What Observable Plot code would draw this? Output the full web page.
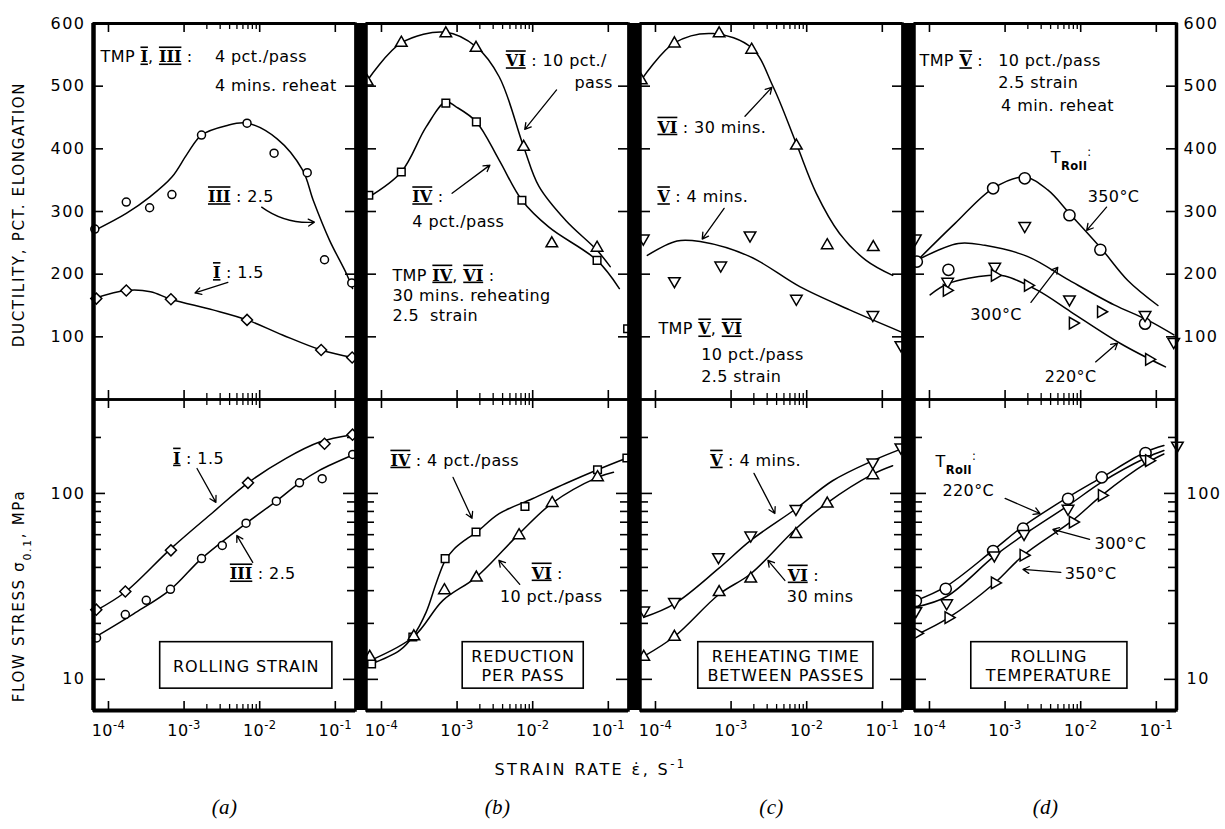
<!DOCTYPE html>
<html><head><meta charset="utf-8">
<script src="https://cdn.jsdelivr.net/npm/d3@7"></script>
<script src="https://cdn.jsdelivr.net/npm/@observablehq/plot@0.6"></script>
<style>
html,body{margin:0;padding:0;background:#fff;}
#chart{position:relative;width:1225px;height:829px;overflow:hidden;background:#fff;}
#chart svg{position:absolute;overflow:visible;}
</style></head><body><div id="chart"></div>
<script>
// ---------- tick values / labels ----------
const xMajor = [1e-4, 1e-3, 1e-2, 1e-1];
const xMinor = [2e-3, 3e-3, 4e-3, 5e-3, 6e-3, 7e-3, 8e-3, 9e-3];
const xTickLabels = ["10^{-4}", "10^{-3}", "10^{-2}", "10^{-1}"];
const ductTicks = [100, 200, 300, 400, 500, 600];
const stressMajor = [10, 100];
const stressMinor = [20, 30, 40, 50, 60, 70, 80, 90, 200];
const panelLabels = ["(a)", "(b)", "(c)", "(d)"];
const yTitleTop = "DUCTILITY, PCT. ELONGATION";
const yTitleBottom = "FLOW STRESS σ_{0.1}, MPa";
const xTitle = "STRAIN RATE ε̇, S^{-1}";

// ---------- (a) rolling strain ----------
const a_duct_I = [[6.9e-5,161],[1.72e-4,174],[6.7e-4,160],[6.8e-3,127],[6.5e-2,79],[0.167,67]];
const a_duct_III = [[6.6e-5,272],[1.72e-4,315],[3.5e-4,306],[6.9e-4,327],[1.7e-3,422],[6.8e-3,441],[1.55e-2,393],[4.25e-2,362],[7.2e-2,223],[0.165,186]];
const a_duct_I_fit = [[6.7e-5,162],[1.72e-4,174],[3.6e-4,172],[6.7e-4,160],[2.4e-3,143],[6.8e-3,127],[2.0e-2,103],[6.5e-2,79],[0.167,67]];
const a_duct_III_fit = [[6.6e-5,270],[1.72e-4,297],[3.5e-4,323],[6.9e-4,355],[1.1e-3,392],[1.7e-3,422],[3.6e-3,437],[6.8e-3,441],[1.7e-2,416],[3.7e-2,366],[5.1e-2,318],[8.4e-2,254],[0.14,201],[0.169,177]];
const a_str_I = [[6.9e-5,23.7],[1.67e-4,29.7],[6.7e-4,49.4],[7.0e-3,114],[7.2e-2,185],[0.169,207]];
const a_str_III = [[6.95e-5,16.7],[1.67e-4,22.3],[3.16e-4,26.6],[6.6e-4,30.5],[1.7e-3,44.6],[3.2e-3,52.5],[6.6e-3,69.2],[1.66e-2,90.9],[3.36e-2,114],[6.7e-2,120],[0.17,162]];
const a_str_I_fit = [[6.9e-5,23.5],[1.67e-4,29.5],[6.7e-4,50.5],[2.4e-3,79],[7.0e-3,114],[2.2e-2,154],[6.2e-2,189],[0.17,207]];
const a_str_III_fit = [[6.9e-5,17],[2.15e-4,22.5],[6.6e-4,30.4],[1.7e-3,44.6],[6.6e-3,69],[1.66e-2,91],[3.36e-2,114],[6.15e-2,133],[0.17,161]];

// ---------- (b) reduction per pass ----------
const b_duct_IV = [[6.8e-5,326],[1.83e-4,363],[7.1e-4,473],[1.8e-3,443],[7.2e-3,318],[7.1e-2,222],[0.18,113]];
const b_duct_VI = [[6.5e-5,507],[1.83e-4,569],[7.1e-4,584],[1.78e-3,561],[7.6e-3,403],[1.79e-2,249],[7.1e-2,242]];
const b_duct_IV_fit = [[6.8e-5,323],[1.83e-4,363],[3.9e-4,435],[7.1e-4,475],[9.7e-4,467],[1.8e-3,443],[3.6e-3,382],[7.2e-3,318],[1.64e-2,275],[7.1e-2,222],[0.14,177]];
const b_duct_VI_fit = [[6.5e-5,509],[1.83e-4,569],[7.1e-4,586],[1.78e-3,563],[3.6e-3,515],[7.6e-3,403],[1.21e-2,340],[2.72e-2,286],[7.1e-2,238],[0.106,212]];
const b_str_IV = [[7.4e-5,12.1],[2.6e-4,16.9],[6.95e-4,44.6],[1.78e-3,62],[7.9e-3,85.1],[7.2e-2,134],[0.176,155]];
const b_str_VI = [[7e-5,13.2],[2.68e-4,17.0],[6.8e-4,30.1],[1.8e-3,35.2],[6.6e-3,59.5],[1.81e-2,88.7],[7.2e-2,122]];
const b_str_IV_fit = [[7e-5,12],[1.74e-4,14.3],[2.6e-4,17],[3.9e-4,23],[5.3e-4,33],[6.95e-4,43.5],[9e-4,50],[1.3e-3,56.5],[1.78e-3,61.5],[3.6e-3,77.8],[9.9e-3,93.6],[2.72e-2,113],[7.2e-2,134],[0.176,155]];
const b_str_VI_fit = [[7e-5,12.6],[2.68e-4,17],[6.5e-4,26.6],[1.8e-3,35.5],[6.6e-3,60.6],[1.81e-2,88.7],[7.2e-2,122],[0.117,130]];

// ---------- (c) reheating time ----------
const c_duct_V = [[6.9e-5,257],[1.78e-4,189],[7.3e-4,214],[1.78e-3,262],[7.3e-3,161],[7.5e-2,135],[0.176,87]];
const c_duct_VI = [[6.5e-5,509],[1.78e-4,568],[6.95e-4,584],[1.87e-3,558],[7.3e-3,405],[1.87e-2,246],[7.6e-2,243]];
const c_duct_V_fit = [[7.8e-5,230],[1.93e-4,253],[3.9e-4,252],[1.78e-3,228],[8.1e-3,180],[3.7e-2,143],[0.176,108]];
const c_duct_VI_fit = [[6.5e-5,510],[1.78e-4,569],[5.8e-4,584],[1.87e-3,561],[3.6e-3,499],[7.3e-3,408],[1.34e-2,329],[2.72e-2,265],[6.1e-2,222],[0.137,198]];
const c_str_V = [[7e-5,23.5],[1.78e-4,26.1],[6.8e-4,45.5],[1.82e-3,59.5],[7.2e-3,82.7],[7.5e-2,147],[0.176,177]];
const c_str_VI = [[7e-5,13.2],[1.78e-4,16.9],[6.95e-4,29.4],[1.82e-3,34.8],[7.2e-3,60.3],[1.87e-2,88],[7.5e-2,125]];
const c_str_V_fit = [[7e-5,21.6],[1.78e-4,25.5],[6.8e-4,39.4],[1.82e-3,55.9],[7.2e-3,82.7],[2.2e-2,117],[7.5e-2,150],[0.176,173]];
const c_str_VI_fit = [[7e-5,13.3],[1.78e-4,17],[6.95e-4,28.7],[1.82e-3,37],[7.2e-3,64.6],[1.87e-2,89],[7.5e-2,127],[0.137,141]];

// ---------- (d) rolling temperature ----------
const d_duct_circ = [[6.8e-5,220],[1.78e-4,207],[6.95e-4,337],[1.82e-3,353],[7.1e-3,294],[1.82e-2,239],[7.1e-2,121]];
const d_duct_down = [[6.5e-5,257],[1.74e-4,188],[7.3e-4,212],[1.82e-3,277],[7.1e-3,160],[7.1e-2,135],[0.17,92]];
const d_duct_right = [[1.69e-4,174],[7.3e-4,198],[2.0e-3,182],[7.85e-3,122],[1.85e-2,140],[8.0e-2,64]];
const d_duct_350_fit = [[6.8e-5,221],[2.18e-4,281],[6.95e-4,337],[1.82e-3,355],[3.7e-3,334],[7.1e-3,297],[1.87e-2,241],[4.2e-2,190],[0.105,150]];
const d_duct_300_fit = [[6.8e-5,222],[2.4e-4,249],[5.4e-4,246],[2.0e-3,228],[7.1e-3,190],[2.77e-2,151],[7.6e-2,127],[0.171,103]];
const d_duct_220_fit = [[1.02e-4,167],[1.78e-4,185],[6.0e-4,198],[9.9e-4,197],[2.7e-3,174],[7.4e-3,140],[3.4e-2,89],[0.132,52]];
const d_str_circ = [[6.6e-5,26.4],[1.64e-4,30.7],[6.95e-4,49],[1.73e-3,64.6],[6.8e-3,93.6],[1.9e-2,122],[7.2e-2,165]];
const d_str_down = [[6.6e-5,23.3],[1.69e-4,25.7],[7.2e-4,46.5],[1.78e-3,60.7],[6.8e-3,82.8],[7.2e-2,153],[0.19,181]];
const d_str_right = [[6.8e-5,17.7],[1.78e-4,21.5],[7.3e-4,33],[1.75e-3,46.5],[7.85e-3,70.1],[1.9e-2,97.6],[8.0e-2,150]];
const d_str_circ_fit = [[6.6e-5,26.5],[1.64e-4,31.5],[6.95e-4,49.5],[1.73e-3,66.5],[6.8e-3,95.5],[1.9e-2,122],[7.2e-2,167],[0.126,181]];
const d_str_down_fit = [[6.6e-5,24.5],[1.69e-4,27.9],[7.2e-4,46],[1.78e-3,60],[6.8e-3,86],[1.9e-2,115],[7.2e-2,155],[0.126,170]];
const d_str_right_fit = [[6.8e-5,17.4],[1.78e-4,21.4],[7.3e-4,33],[1.75e-3,46.5],[7.85e-3,71.6],[1.9e-2,97.6],[7.2e-2,144.5],[0.126,163]];

// ---------- annotations (data coordinates) ----------
const a_duct_notes = [
  {x: 10**-4.105, y: 546, text: "TMP Ⅰ, Ⅲ :"},
  {x: 10**-2.592, y: 546, text: "4 pct./pass"},
  {x: 10**-2.592, y: 501, text: "4 mins. reheat"},
  {x: 10**-2.684, y: 323, text: "Ⅲ : 2.5"},
  {x: 10**-2.618, y: 202, text: "Ⅰ : 1.5"}];
const a_duct_arrows = [
  {x1: 10**-1.974, y1: 307, x2: 10**-1.276, y2: 283, bend: -20},
  {x1: 10**-2.421, y1: 187, x2: 10**-2.855, y2: 170, bend: 0}];
const b_duct_notes = [
  {x: 10**-2.355, y: 540, text: "Ⅵ : 10 pct./"},
  {x: 10**-1.447, y: 505, text: "pass"},
  {x: 10**-3.592, y: 323, text: "Ⅳ :"},
  {x: 10**-3.592, y: 283, text: "4 pct./pass"},
  {x: 10**-3.855, y: 198, text: "TMP Ⅳ, Ⅵ :"},
  {x: 10**-3.855, y: 165, text: "30 mins. reheating"},
  {x: 10**-3.855, y: 133, text: "2.5  strain"}];
const b_duct_arrows = [
  {x1: 10**-1.684, y1: 494, x2: 10**-2.105, y2: 431, bend: 0},
  {x1: 10**-3.066, y1: 329, x2: 10**-2.566, y2: 374, bend: 0}];
const c_duct_notes = [
  {x: 10**-3.974, y: 434, text: "Ⅵ : 30 mins."},
  {x: 10**-3.974, y: 323, text: "Ⅴ : 4 mins."},
  {x: 10**-3.961, y: 112, text: "TMP Ⅴ, Ⅵ"},
  {x: 10**-3.395, y: 72, text: "10 pct./pass"},
  {x: 10**-3.395, y: 36, text: "2.5 strain"}];
const c_duct_arrows = [
  {x1: 10**-2.816, y1: 452, x2: 10**-2.461, y2: 498, bend: 0},
  {x1: 10**-3.092, y1: 305, x2: 10**-3.382, y2: 256, bend: 0}];
const d_duct_notes = [
  {x: 10**-4.132, y: 540, text: "TMP Ⅴ :"},
  {x: 10**-3.092, y: 540, text: "10 pct./pass"},
  {x: 10**-3.092, y: 505, text: "2.5 strain"},
  {x: 10**-3.053, y: 468, text: "4 min. reheat"},
  {x: 10**-2.395, y: 385, text: "T_{Roll}^{:}"},
  {x: 10**-1.908, y: 323, text: "350°C"},
  {x: 10**-3.461, y: 135, text: "300°C"},
  {x: 10**-2.474, y: 36, text: "220°C"}];
const d_duct_arrows = [
  {x1: 10**-1.658, y1: 307, x2: 10**-1.921, y2: 270, bend: 0},
  {x1: 10**-2.658, y1: 155, x2: 10**-2.303, y2: 211, bend: 0},
  {x1: 10**-1.803, y1: 60, x2: 10**-1.513, y2: 90, bend: 0}];

const a_str_notes = [
  {x: 10**-3.145, y: 10**2.188, text: "Ⅰ : 1.5"},
  {x: 10**-2.395, y: 10**1.565, text: "Ⅲ : 2.5"}];
const a_str_arrows = [
  {x1: 10**-2.829, y1: 10**2.134, x2: 10**-2.579, y2: 10**1.952, bend: 0},
  {x1: 10**-2.092, y1: 10**1.629, x2: 10**-2.303, y2: 10**1.774, bend: 0}];
const a_box = {x1: 10**-3.316, x2: 10**-1.039, y1: 10**0.95, y2: 10**1.2, cx: 10**-2.178, cy: 10**1.075, text: "ROLLING STRAIN"};
const b_str_notes = [
  {x: 10**-3.882, y: 10**2.177, text: "Ⅳ : 4 pct./pass"},
  {x: 10**-2.013, y: 10**1.570, text: "Ⅵ :"},
  {x: 10**-2.434, y: 10**1.441, text: "10 pct./pass"}];
const b_str_arrows = [
  {x1: 10**-3.053, y1: 10**2.086, x2: 10**-2.803, y2: 10**1.866, bend: 0},
  {x1: 10**-2.171, y1: 10**1.511, x2: 10**-2.447, y2: 10**1.640, bend: 0}];
const b_box = {x1: 10**-2.926, x2: 10**-1.325, y1: 10**0.95, y2: 10**1.2, cx: 10**-2.128, cy: 10**1.075, text: "REDUCTION\nPER PASS"};
const c_str_notes = [
  {x: 10**-3.276, y: 10**2.177, text: "Ⅴ : 4 mins."},
  {x: 10**-2.25, y: 10**1.559, text: "Ⅵ :"},
  {x: 10**-2.263, y: 10**1.441, text: "30 mins"}];
const c_str_arrows = [
  {x1: 10**-2.697, y1: 10**2.108, x2: 10**-2.421, y2: 10**1.892, bend: 0},
  {x1: 10**-2.289, y1: 10**1.532, x2: 10**-2.513, y2: 10**1.640, bend: 0}];
const c_box = {x1: 10**-3.434, x2: 10**-1.118, y1: 10**0.95, y2: 10**1.2, cx: 10**-2.276, cy: 10**1.075, text: "REHEATING TIME\nBETWEEN PASSES"};
const d_str_notes = [
  {x: 10**-3.921, y: 10**2.167, text: "T_{Roll}^{:}"},
  {x: 10**-3.829, y: 10**2.016, text: "220°C"},
  {x: 10**-1.816, y: 10**1.731, text: "300°C"},
  {x: 10**-2.211, y: 10**1.570, text: "350°C"}];
const d_str_arrows = [
  {x1: 10**-3.0, y1: 10**1.973, x2: 10**-2.539, y2: 10**1.892, bend: 0},
  {x1: 10**-1.882, y1: 10**1.753, x2: 10**-2.368, y2: 10**1.806, bend: 0},
  {x1: 10**-2.263, y1: 10**1.575, x2: 10**-2.763, y2: 10**1.591, bend: 0}];
const d_box = {x1: 10**-3.447, x2: 10**-1.382, y1: 10**0.95, y2: 10**1.2, cx: 10**-2.421, cy: 10**1.075, text: "ROLLING\nTEMPERATURE"};

// ---------- layout ----------
const X_DOMAIN = [10 ** -4.198, 10 ** -0.733];
const DUCT_DOMAIN = [0, 600];
const STRESS_DOMAIN = [6.8, 320];
const LEFTS = [93, 366, 640, 914];
const PW = 262;
const ROW_TOP = {top: 23, bottom: 399};
const ROW_H = {top: 376, bottom: 311};
const FONT = "DejaVu Sans";

const SYM = {
  circle: {symbol: "circle", r: 4, rotate: 0},
  big: {symbol: "circle", r: 5.6, rotate: 0},
  diamond: {symbol: "square", r: 4.4, rotate: 45},
  square: {symbol: "square", r: 4.3, rotate: 0},
  up: {symbol: "triangle", r: 4.3, rotate: 0},
  down: {symbol: "triangle", r: 4.3, rotate: 180},
  right: {symbol: "triangle", r: 4.3, rotate: 90}
};

const PANELS = [
  {top: {lines: [a_duct_III_fit, a_duct_I_fit], dots: [[a_duct_III, "circle"], [a_duct_I, "diamond"]], notes: a_duct_notes, arrows: a_duct_arrows},
   bottom: {lines: [a_str_I_fit, a_str_III_fit], dots: [[a_str_I, "diamond"], [a_str_III, "circle"]], notes: a_str_notes, arrows: a_str_arrows, box: a_box}},
  {top: {lines: [b_duct_VI_fit, b_duct_IV_fit], dots: [[b_duct_VI, "up"], [b_duct_IV, "square"]], notes: b_duct_notes, arrows: b_duct_arrows},
   bottom: {lines: [b_str_IV_fit, b_str_VI_fit], dots: [[b_str_IV, "square"], [b_str_VI, "up"]], notes: b_str_notes, arrows: b_str_arrows, box: b_box}},
  {top: {lines: [c_duct_VI_fit, c_duct_V_fit], dots: [[c_duct_VI, "up"], [c_duct_V, "down"]], notes: c_duct_notes, arrows: c_duct_arrows},
   bottom: {lines: [c_str_V_fit, c_str_VI_fit], dots: [[c_str_V, "down"], [c_str_VI, "up"]], notes: c_str_notes, arrows: c_str_arrows, box: c_box}},
  {top: {lines: [d_duct_350_fit, d_duct_300_fit, d_duct_220_fit], dots: [[d_duct_circ, "big"], [d_duct_down, "down"], [d_duct_right, "right"]], notes: d_duct_notes, arrows: d_duct_arrows},
   bottom: {lines: [d_str_circ_fit, d_str_down_fit, d_str_right_fit], dots: [[d_str_circ, "big"], [d_str_down, "down"], [d_str_right, "right"]], notes: d_str_notes, arrows: d_str_arrows, box: d_box}}
];

const chart = document.getElementById("chart");

function draw(k, row) {
  const spec = PANELS[k][row];
  const isTop = row === "top";
  const H = ROW_H[row];
  const marks = [];
  marks.push(Plot.tickX(xMajor, {x: d => d, insetBottom: H - 9, strokeWidth: 1.6}));
  marks.push(Plot.tickX(xMajor, {x: d => d, insetTop: H - 9, strokeWidth: 1.6}));
  marks.push(Plot.tickX(xMinor, {x: d => d, insetBottom: H - 6, strokeWidth: 1.3}));
  marks.push(Plot.tickX(xMinor, {x: d => d, insetTop: H - 6, strokeWidth: 1.3}));
  const yt = (vals, l) => [
    Plot.tickY(vals, {y: d => d, insetRight: PW - l, strokeWidth: 1.6}),
    Plot.tickY(vals, {y: d => d, insetLeft: PW - l, strokeWidth: 1.6})];
  if (isTop) marks.push(...yt(ductTicks.filter(d => d < 600), 10));
  else { marks.push(...yt(stressMajor, 12)); marks.push(...yt(stressMinor, 8)); }
  for (const s of spec.lines)
    marks.push(Plot.line(s, {x: d => d[0], y: d => d[1], curve: "catmull-rom", stroke: "black", strokeWidth: 1.5}));
  for (const [data, sym] of spec.dots) {
    const st = SYM[sym];
    marks.push(Plot.dot(data, {x: d => d[0], y: d => d[1], symbol: st.symbol, r: st.r, rotate: st.rotate, fill: "white", stroke: "black", strokeWidth: 1.5}));
  }
  for (const a of spec.arrows)
    marks.push(Plot.arrow([a], {x1: "x1", y1: "y1", x2: "x2", y2: "y2", bend: a.bend, headLength: 8, stroke: "black", strokeWidth: 1.3}));
  marks.push(Plot.text(spec.notes, {x: "x", y: "y", text: "text", textAnchor: "start", fontSize: 16, fontFamily: FONT}));
  if (spec.box) {
    marks.push(Plot.rect([spec.box], {x1: "x1", x2: "x2", y1: "y1", y2: "y2", fill: "white", stroke: "black", strokeWidth: 1.6}));
    marks.push(Plot.text([spec.box], {x: "cx", y: "cy", text: "text", fontSize: 16, lineHeight: 1.2, fontFamily: FONT}));
  }
  marks.push(Plot.frame({stroke: "black", strokeWidth: 2.5}));
  if (k === 0) marks.push(Plot.ruleX([X_DOMAIN[0]], {strokeWidth: 4.5}));
  else {
    const gap = LEFTS[k] - (LEFTS[k - 1] + PW);
    marks.push(Plot.ruleX([X_DOMAIN[0]], {strokeWidth: gap + 1, dx: -(gap + 1) / 2}));
  }
  if (k === 3) marks.push(Plot.ruleX([X_DOMAIN[1]], {strokeWidth: 3.5}));
  if (isTop) marks.push(Plot.ruleY([DUCT_DOMAIN[1]], {strokeWidth: 3}));
  else marks.push(Plot.ruleY([STRESS_DOMAIN[0]], {strokeWidth: 4}));
  if (k === 0) {
    if (isTop) {
      marks.push(Plot.text(ductTicks, {x: X_DOMAIN[0], y: d => d, text: d => String(d), textAnchor: "end", dx: -8, fontSize: 16, fontFamily: FONT}));
      marks.push(Plot.text([yTitleTop], {frameAnchor: "left", textAnchor: "middle", rotate: -90, dx: -74, dy: 3, fontSize: 15, fontFamily: FONT}));
    } else {
      marks.push(Plot.text(stressMajor, {x: X_DOMAIN[0], y: d => d, text: d => String(d), textAnchor: "end", dx: -8, fontSize: 16, fontFamily: FONT}));
      marks.push(Plot.text([yTitleBottom], {frameAnchor: "left", textAnchor: "middle", rotate: -90, dx: -74, dy: 41, fontSize: 15, fontFamily: FONT}));
    }
  }
  if (k === 3) {
    if (isTop) marks.push(Plot.text(ductTicks, {x: X_DOMAIN[1], y: d => d, text: d => String(d), textAnchor: "start", dx: 7, fontSize: 16, fontFamily: FONT}));
    else marks.push(Plot.text(stressMajor, {x: X_DOMAIN[1], y: d => d, text: d => String(d), textAnchor: "start", dx: 10, fontSize: 16, fontFamily: FONT}));
  }
  if (!isTop) {
    marks.push(Plot.text(xMajor, {x: d => d, frameAnchor: "bottom", dy: 25, text: (d, i) => xTickLabels[i], fontSize: 16, fontFamily: FONT}));
    marks.push(Plot.text([panelLabels[k]], {frameAnchor: "bottom", dy: 103, fontSize: 21, fontStyle: "italic", fontFamily: "Liberation Serif"}));
    if (k === 1) marks.push(Plot.text([xTitle], {frameAnchor: "bottom", dx: 93, dy: 64, fontSize: 16, fontFamily: FONT}));
  }
  const svg = Plot.plot({
    width: PW, height: H, margin: 0,
    x: {type: "log", domain: X_DOMAIN, axis: null},
    y: isTop ? {type: "linear", domain: DUCT_DOMAIN, axis: null} : {type: "log", domain: STRESS_DOMAIN, axis: null},
    style: {background: "transparent", overflow: "visible", fontFamily: FONT, fontSize: "15px", color: "black"},
    marks
  });
  svg.style.left = LEFTS[k] + "px";
  svg.style.top = ROW_TOP[row] + "px";
  chart.appendChild(svg);
}

for (const row of ["top", "bottom"]) for (let k = 0; k < 4; k++) draw(k, row);

// rich text: ^{..} superscript, _{..} subscript, barred roman numerals
const ROMAN = {"Ⅰ": "I", "Ⅲ": "III", "Ⅳ": "IV", "Ⅴ": "V", "Ⅵ": "VI"};
function richify(root) {
  root.querySelectorAll("text").forEach(el => {
    if (el.querySelector("tspan")) return;
    const t = el.textContent;
    if (!/[_^]\{|[ⅠⅢⅣⅤⅥ]/.test(t)) return;
    el.textContent = "";
    for (const p of t.split(/([_^]\{[^}]*\}|[ⅠⅢⅣⅤⅥ])/)) {
      if (!p) continue;
      const ts = document.createElementNS("http://www.w3.org/2000/svg", "tspan");
      const m = p.match(/^([_^])\{([^}]*)\}$/);
      if (m) {
        ts.setAttribute("baseline-shift", m[1] === "^" ? "super" : "sub");
        ts.setAttribute("font-size", "72%");
        if (m[2] === "Roll") ts.setAttribute("font-weight", "bold");
        ts.textContent = m[2];
      } else if (ROMAN[p]) {
        ts.setAttribute("font-weight", "bold");
        ts.setAttribute("font-family", "DejaVu Serif");
        ts.setAttribute("text-decoration", "underline overline");
        ts.style.letterSpacing = "0px";
        ts.textContent = ROMAN[p];
      } else ts.textContent = p;
      el.appendChild(ts);
    }
  });
}
richify(chart);
chart.querySelectorAll("text").forEach(el => {
  const t = el.textContent;
  let ls = 0.4;
  if (t.startsWith("DUCTILITY") || t.startsWith("FLOW")) ls = 1.7;
  else if (t.startsWith("STRAIN")) ls = 2.4;
  else if (/^[A-Z ]+$/.test(t)) ls = 0.9;
  else if (/^\d+$/.test(t)) ls = 1.5;
  el.style.letterSpacing = ls + "px";
});
</script></body></html>
